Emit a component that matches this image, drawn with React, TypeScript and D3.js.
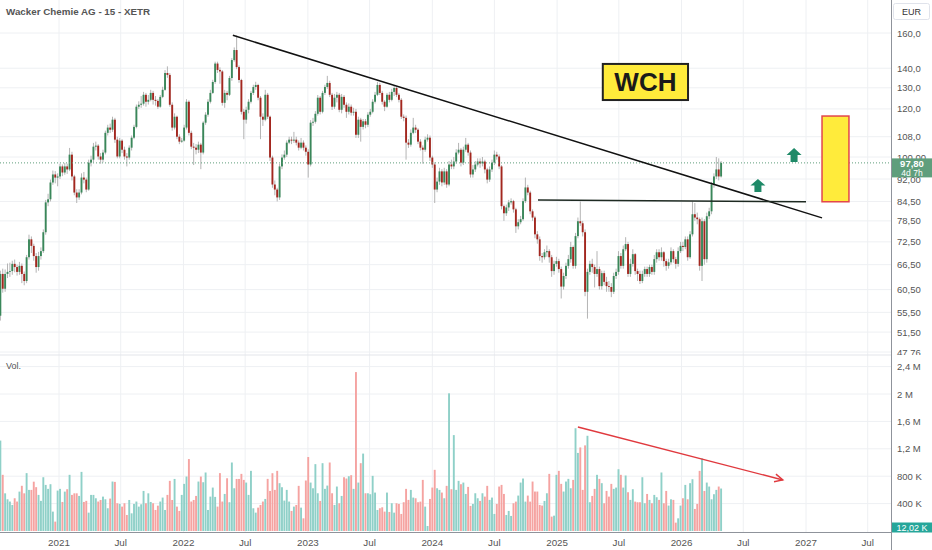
import React from "react";
import * as d3 from "d3";

// ---------- data ----------
const firstDate = "2020-07-13"; // weekly candles
const firstOpen = 54.8;

const closes = [
  64.2, 60.7, 64.2, 64.7, 64.9, 66.7, 65.9, 64.7, 66.2, 64.2,
  62.5, 68.4, 73.2, 71.4, 68.7, 65.9, 68.7, 70.0, 75.2, 84.2,
  85.2, 90.8, 93.6, 92.5, 92.9, 96.5, 94.3, 96.5, 95.4, 100.9,
  92.9, 87.4, 85.8, 87.4, 92.5, 91.8, 88.4, 97.9, 99.0, 104.0,
  104.4, 100.2, 99.0, 101.7, 109.6, 111.8, 110.9, 115.2, 106.8, 100.2,
  106.4, 102.8, 100.2, 99.8, 103.6, 107.6, 112.1, 121.0, 121.9, 122.4,
  126.6, 123.3, 124.2, 127.5, 124.2, 123.7, 121.0, 125.6, 129.0, 137.5,
  136.5, 121.9, 111.8, 116.5, 108.0, 106.0, 106.4, 111.8, 123.3, 109.6,
  104.0, 103.6, 102.8, 104.8, 101.7, 113.9, 117.4, 123.3, 127.5, 132.9,
  142.5, 139.1, 138.3, 122.8, 127.5, 126.6, 134.9, 144.4, 150.0, 140.6,
  133.9, 118.7, 115.2, 119.6, 123.3, 127.5, 130.4, 131.4, 125.2, 116.5,
  115.2, 126.6, 116.5, 99.8, 90.1, 88.4, 85.8, 96.5, 99.8, 100.9,
  105.6, 106.8, 106.4, 106.8, 105.6, 103.6, 105.6, 103.6, 102.0, 97.2,
  113.9, 114.3, 117.8, 125.2, 118.7, 127.5, 130.4, 132.4, 126.6, 121.0,
  125.2, 126.6, 119.6, 125.6, 121.9, 118.7, 121.0, 118.3, 118.7, 108.8,
  115.2, 112.1, 114.5, 113.0, 117.4, 118.7, 123.3, 126.6, 131.4, 127.5,
  123.3, 121.0, 126.6, 124.2, 128.0, 129.9, 126.6, 124.2, 116.5, 116.0,
  105.6, 104.8, 109.6, 111.8, 110.9, 106.0, 103.6, 102.8, 106.8, 107.6,
  99.8, 97.2, 88.4, 91.1, 94.7, 90.8, 94.7, 90.1, 97.2, 96.5,
  98.3, 101.7, 102.8, 97.9, 102.8, 104.8, 101.7, 93.6, 95.4, 97.2,
  98.3, 97.6, 98.3, 95.4, 91.8, 95.4, 97.9, 100.9, 100.2, 96.5,
  83.0, 80.8, 82.6, 84.2, 84.6, 82.0, 76.9, 78.1, 79.0, 84.6,
  89.1, 87.4, 81.4, 79.5, 74.6, 73.2, 68.7, 68.4, 69.7, 70.0,
  68.4, 64.9, 66.7, 67.4, 65.4, 61.2, 63.7, 66.2, 67.9, 71.1,
  66.2, 74.1, 78.4, 77.8, 75.2, 60.0, 64.7, 66.7, 65.9, 64.2,
  65.4, 61.3, 64.4, 62.3, 61.3, 61.1, 60.0, 63.7, 64.7, 68.7,
  66.2, 70.5, 71.9, 64.2, 66.7, 69.2, 64.9, 64.2, 62.5, 64.2,
  65.4, 64.2, 65.9, 64.7, 67.9, 69.7, 68.4, 69.7, 67.4, 66.2,
  67.1, 70.0, 67.9, 66.7, 70.0, 71.4, 71.1, 73.2, 68.4, 74.6,
  80.5, 79.5, 79.0, 66.2, 78.4, 67.9, 79.9, 81.4, 90.1, 92.9,
  95.4, 92.9, 97.8,
];

const highs = [
  65.0, 65.5, 65.3, 66.8, 67.0, 67.5, 67.8, 66.5, 67.2, 66.8,
  64.8, 69.0, 74.5, 74.0, 72.0, 69.5, 69.8, 71.0, 76.0, 85.0,
  87.0, 91.8, 95.0, 94.8, 94.0, 97.5, 97.2, 97.8, 97.5, 103.5,
  102.0, 93.5, 88.5, 88.5, 94.0, 94.5, 92.5, 99.0, 100.5, 105.5,
  106.0, 105.0, 101.5, 102.8, 110.5, 113.0, 113.5, 116.5, 116.0, 108.0,
  107.5, 107.0, 104.0, 101.5, 104.5, 108.5, 113.0, 122.0, 123.5, 126.0,
  128.0, 127.5, 126.5, 129.0, 128.5, 126.0, 124.5, 126.5, 130.5, 139.0,
  141.0, 137.5, 123.0, 118.0, 117.0, 109.0, 107.5, 113.0, 124.5, 124.0,
  110.5, 105.5, 105.0, 106.0, 105.5, 114.5, 118.5, 124.5, 129.0, 134.0,
  143.5, 143.5, 140.5, 139.0, 129.0, 128.5, 136.0, 145.5, 151.5, 158.5,
  141.5, 134.5, 120.0, 121.0, 124.5, 128.5, 131.5, 133.0, 132.0, 126.0,
  118.0, 129.0, 127.5, 117.0, 100.5, 91.5, 89.0, 97.5, 101.0, 102.5,
  106.5, 108.0, 108.0, 110.0, 108.0, 106.5, 107.5, 106.5, 104.5, 103.0,
  115.0, 116.0, 119.0, 126.5, 126.0, 128.5, 131.5, 136.0, 133.5, 127.5,
  127.0, 128.0, 127.5, 127.0, 126.5, 123.0, 122.5, 122.0, 120.5, 120.0,
  116.5, 116.0, 115.5, 115.5, 118.5, 120.0, 124.5, 128.0, 133.0, 132.5,
  128.5, 124.0, 127.5, 128.0, 129.5, 131.0, 130.5, 127.5, 125.0, 117.5,
  117.0, 107.0, 111.0, 116.0, 113.0, 111.5, 107.0, 104.5, 108.0, 109.0,
  108.5, 100.5, 98.0, 92.5, 96.0, 95.5, 96.0, 95.5, 98.5, 99.0,
  100.0, 103.0, 105.5, 103.5, 104.0, 107.5, 105.5, 102.5, 97.0, 98.5,
  99.5, 99.5, 100.0, 99.0, 96.0, 96.5, 99.0, 102.5, 102.0, 101.0,
  97.0, 83.5, 83.5, 85.0, 85.5, 85.0, 82.5, 79.0, 80.0, 85.5,
  92.5, 90.0, 88.0, 82.0, 80.0, 75.5, 74.0, 69.5, 70.5, 71.5,
  70.5, 69.0, 67.5, 68.5, 68.0, 66.0, 64.5, 67.0, 69.0, 72.5,
  71.5, 75.0, 79.5, 84.5, 78.5, 76.0, 65.5, 67.5, 68.0, 66.5,
  70.0, 66.0, 65.0, 65.0, 63.5, 62.5, 62.0, 64.5, 65.5, 70.0,
  69.5, 71.5, 73.8, 72.5, 68.0, 70.5, 69.5, 65.5, 65.0, 65.0,
  66.0, 66.0, 66.5, 66.5, 69.0, 70.5, 70.5, 71.0, 70.0, 68.0,
  68.0, 71.0, 70.5, 68.5, 71.0, 72.5, 72.5, 74.0, 74.0, 75.5,
  84.5, 84.0, 81.0, 79.5, 79.5, 79.0, 81.0, 82.5, 91.0, 94.0,
  100.0, 99.5, 98.5,
];

const lows = [
  53.8, 59.8, 60.0, 63.2, 63.5, 64.0, 64.6, 63.8, 64.0, 62.0,
  61.5, 62.0, 67.8, 69.5, 67.5, 64.5, 65.0, 67.8, 69.5, 74.5,
  83.0, 84.5, 90.0, 90.5, 89.5, 92.0, 93.0, 93.5, 93.8, 94.8,
  91.5, 86.5, 84.0, 85.0, 86.8, 90.5, 87.5, 88.0, 96.5, 98.0,
  102.5, 99.0, 97.5, 98.0, 101.0, 108.5, 109.5, 110.0, 105.5, 99.5,
  99.5, 101.5, 99.0, 96.5, 99.0, 102.5, 107.0, 111.5, 120.0, 120.5,
  121.5, 121.0, 122.0, 123.5, 122.0, 121.5, 120.0, 120.5, 125.0, 128.5,
  135.0, 121.0, 110.5, 111.0, 107.0, 105.0, 105.5, 106.0, 111.0, 108.5,
  103.0, 97.0, 101.0, 101.5, 95.5, 101.0, 113.0, 116.5, 122.5, 127.0,
  132.0, 137.5, 132.0, 121.5, 120.5, 124.0, 126.0, 133.5, 143.5, 139.5,
  132.5, 117.5, 107.0, 113.5, 118.0, 122.5, 126.5, 129.0, 124.0, 107.0,
  112.5, 114.5, 115.5, 98.5, 89.0, 86.5, 84.5, 85.0, 95.5, 99.0,
  100.0, 105.0, 105.0, 105.5, 104.5, 102.5, 103.0, 102.5, 100.5, 92.5,
  96.5, 112.5, 113.5, 117.0, 117.5, 118.0, 126.5, 129.5, 125.5, 119.5,
  120.0, 123.0, 118.5, 118.0, 120.5, 116.0, 117.5, 117.0, 117.0, 107.5,
  107.5, 106.0, 111.0, 111.5, 112.0, 116.5, 118.0, 122.5, 126.0, 126.5,
  122.0, 119.0, 120.5, 123.0, 123.5, 126.0, 125.5, 123.0, 115.5, 114.5,
  99.0, 103.5, 104.0, 109.0, 109.5, 105.0, 102.5, 97.5, 102.0, 106.0,
  98.5, 96.0, 84.0, 87.5, 90.0, 89.5, 90.0, 89.0, 89.5, 95.5,
  95.5, 97.5, 101.0, 96.5, 97.0, 102.0, 100.5, 92.5, 92.5, 94.5,
  96.5, 96.0, 96.5, 94.0, 90.5, 91.0, 94.5, 97.0, 99.0, 95.5,
  82.0, 78.5, 80.0, 81.5, 83.5, 81.0, 75.0, 76.0, 77.5, 78.5,
  84.0, 86.5, 80.5, 78.5, 73.5, 72.0, 67.5, 67.0, 67.8, 68.5,
  67.0, 63.5, 64.0, 66.0, 64.5, 58.5, 60.5, 63.0, 65.5, 67.0,
  65.5, 65.5, 73.5, 77.0, 74.0, 59.0, 54.2, 64.0, 64.5, 61.0,
  63.5, 60.5, 60.5, 61.5, 60.0, 60.0, 58.8, 59.5, 63.0, 64.0,
  65.5, 65.5, 70.0, 63.5, 63.5, 66.0, 64.0, 62.5, 61.8, 62.0,
  63.5, 63.5, 63.5, 64.0, 64.0, 67.0, 67.5, 67.5, 66.0, 65.0,
  65.5, 66.5, 67.0, 65.5, 66.0, 69.5, 70.0, 70.5, 67.5, 68.0,
  74.0, 78.5, 77.5, 65.0, 62.5, 66.5, 67.0, 79.0, 80.5, 89.0,
  92.0, 91.5, 92.5,
];

// weekly volume, thousands of shares
const volumes = [
  1320, 820, 550, 463, 430, 380, 478, 430, 575, 660,
  550, 845, 600, 600, 720, 640, 527, 440, 785, 673,
  615, 683, 283, 137, 590, 615, 424, 575, 610, 820,
  527, 550, 550, 512, 863, 424, 440, 268, 527, 527,
  478, 430, 453, 502, 463, 332, 473, 722, 717, 405,
  395, 356, 405, 234, 453, 258, 395, 430, 356, 390,
  585, 405, 550, 424, 405, 307, 370, 430, 488, 307,
  527, 732, 453, 760, 356, 293, 527, 688, 795, 1050,
  430, 453, 512, 722, 795, 712, 854, 307, 502, 634,
  498, 356, 845, 430, 541, 770, 420, 1000, 624, 760,
  760, 834, 746, 707, 527, 878, 332, 268, 341, 380,
  430, 468, 761, 585, 844, 600, 878, 698, 639, 444,
  600, 430, 293, 356, 380, 659, 341, 185, 737, 1080,
  707, 624, 976, 551, 439, 990, 615, 663, 1000, 551,
  380, 649, 405, 512, 785, 766, 800, 815, 615, 2320,
  707, 990, 1130, 551, 551, 537, 805, 561, 307, 332,
  346, 283, 561, 278, 405, 268, 405, 395, 249, 420,
  615, 454, 600, 488, 478, 420, 429, 746, 356, 73,
  468, 634, 893, 624, 600, 561, 478, 659, 2010, 610,
  1400, 600, 732, 683, 707, 541, 644, 366, 395, 551,
  478, 439, 551, 502, 659, 454, 488, 249, 395, 649,
  673, 541, 234, 293, 220, 405, 429, 517, 707, 766,
  429, 517, 429, 722, 576, 576, 380, 371, 439, 551,
  834, 210, 224, 820, 878, 688, 576, 722, 761, 624,
  746, 1500, 1140, 1220, 600, 1250, 1390, 420, 512, 615,
  820, 761, 698, 405, 585, 502, 688, 615, 634, 902,
  820, 634, 810, 566, 454, 610, 429, 420, 420, 785,
  405, 541, 454, 405, 527, 493, 454, 854, 405, 585,
  371, 463, 454, 122, 185, 371, 478, 673, 463, 698,
  756, 322, 395, 878, 1060, 585, 707, 649, 463, 537,
  600, 649, 620,
];

const priceTicks = [160, 140, 130, 120, 108, 100, 92, 84.5, 78.5, 72.5, 66.5, 60.5, 55.5, 51.5, 47.76];
const priceTickLabels = ["160,0", "140,0", "130,0", "120,0", "108,0", "100,00", "92,00", "84,50", "78,50", "72,50", "66,50", "60,50", "55,50", "51,50", "47,76"];

const volTicks = [400, 800, 1200, 1600, 2000, 2400];
const volTickLabels = ["400 K", "800 K", "1,2 M", "1,6 M", "2 M", "2,4 M"];

const timeTicks = [
  "2021-01-01", "2021-07-01", "2022-01-01", "2022-07-01", "2023-01-01", "2023-07-01",
  "2024-01-01", "2024-07-01", "2025-01-01", "2025-07-01", "2026-01-01", "2026-07-01",
  "2027-01-01", "2027-07-01",
];
const timeTickLabels = ["2021", "Jul", "2022", "Jul", "2023", "Jul", "2024", "Jul", "2025", "Jul", "2026", "Jul", "2027", "Jul"];

const title = "Wacker Chemie AG - 15 - XETR";
const currency = "EUR";
const lastPrice = 97.8;
const lastPriceLabel = "97,80";
const countdownLabel = "4d 7h";
const lastVolumeLabel = "12,02 K";
const lastVolume = 12.02;

// drawings (date, price)
const trendLine = [["2022-05-26", 158.6], ["2027-02-17", 79.4]] as const;
const supportLine = [["2024-11-06", 85.0], ["2027-01-01", 84.4]] as const;
const targetBox = { from: "2027-02-17", to: "2027-05-07", low: 84.4, high: 116.8 };
const upArrows = [
  { date: "2026-08-13", base: 87.6, tip: 92.0 },
  { date: "2026-11-27", base: 98.1, tip: 103.5 },
];
const labelBox = { from: "2025-05-15", to: "2026-01-20", low: 124.1, high: 142.3, text: "WCH" };
const volumeTrend = [["2025-03-03", 1518], ["2026-10-25", 745]] as const;

// ---------- component ----------
const FONT = "'Liberation Sans', Arial, sans-serif";
const d = (s: string) => new Date(s + "T00:00:00Z");

export default function App() {
  const W = 932;
  const H = 550;
  const plotRight = 891;
  const paneSplit = 355;
  const axisY = 532;

  const x = d3.scaleUtc().domain([d("2021-01-01"), d("2027-01-01")]).range([59, 806]);
  const y = d3.scaleLog().domain([47.76, 160]).range([352, 33]);
  const yv = d3.scaleLinear().domain([0, 2400]).range([531, 366.6]);

  const start = d(firstDate);
  const candles = closes.map((c, i) => {
    const o = i === 0 ? firstOpen : closes[i - 1];
    return {
      date: d3.utcDay.offset(start, 7 * i),
      o,
      c,
      h: Math.max(highs[i], o, c),
      l: Math.min(lows[i], o, c),
      v: volumes[i],
      up: c >= o,
    };
  });

  const green = "#3a875a";
  const red = "#a3271f";
  const wick = "#acacac";
  const grid = "#eef0f3";

  const arrowPath = (cx: number, yb: number, yt: number) => {
    const hh = (yb - yt) * 0.5;
    return `M${cx},${yt} L${cx + 7.5},${yt + hh} L${cx + 3.5},${yt + hh} L${cx + 3.5},${yb} L${cx - 3.5},${yb} L${cx - 3.5},${yt + hh} L${cx - 7.5},${yt + hh} Z`;
  };

  const vt0 = [x(d(volumeTrend[0][0])), yv(volumeTrend[0][1])];
  const vt1 = [x(d(volumeTrend[1][0])), yv(volumeTrend[1][1])];
  const ang = Math.atan2(vt1[1] - vt0[1], vt1[0] - vt0[0]);
  const ah = 9;
  const head1 = [vt1[0] - ah * Math.cos(ang - 0.45), vt1[1] - ah * Math.sin(ang - 0.45)];
  const head2 = [vt1[0] - ah * Math.cos(ang + 0.45), vt1[1] - ah * Math.sin(ang + 0.45)];

  const lpY = y(lastPrice);
  const lvY = Math.min(yv(lastVolume), 527.5);

  return (
    <div style={{ position: "absolute", left: 0, top: 0, width: W, height: H, background: "#fff" }}>
      <svg width={W} height={H} style={{ display: "block", fontFamily: FONT }}>
        <defs>
          <clipPath id="pricePane">
            <rect x={0} y={0} width={plotRight} height={paneSplit} />
          </clipPath>
          <clipPath id="volPane">
            <rect x={0} y={paneSplit} width={plotRight} height={axisY - paneSplit} />
          </clipPath>
          <clipPath id="priceAxis">
            <rect x={plotRight} y={0} width={W - plotRight} height={paneSplit} />
          </clipPath>
        </defs>
        <rect x={0} y={0} width={W} height={H} fill="#ffffff" />

        {/* vertical grid */}
        {timeTicks.map((t) => (
          <line key={t} x1={x(d(t))} x2={x(d(t))} y1={0} y2={axisY} stroke={grid} strokeWidth={1} />
        ))}
        {/* price grid */}
        <g clipPath="url(#pricePane)">
          {priceTicks.map((p) => (
            <line key={p} x1={0} x2={plotRight} y1={y(p)} y2={y(p)} stroke={grid} strokeWidth={1} />
          ))}
        </g>
        {/* volume grid */}
        {volTicks.map((v) => (
          <line key={v} x1={0} x2={plotRight} y1={yv(v)} y2={yv(v)} stroke={grid} strokeWidth={1} />
        ))}
        <line x1={0} x2={plotRight} y1={paneSplit} y2={paneSplit} stroke="#e3e5ea" strokeWidth={1} />

        {/* volume bars */}
        <g clipPath="url(#volPane)">
          {candles.map((k, i) => (
            <rect
              key={i}
              x={x(k.date) - 0.95}
              width={1.9}
              y={yv(k.v)}
              height={yv(0) - yv(k.v)}
              fill={k.up ? "#8fd0c8" : "#f5a3a1"}
            />
          ))}
          <line x1={vt0[0]} y1={vt0[1]} x2={vt1[0]} y2={vt1[1]} stroke="#e0393e" strokeWidth={1.4} />
          <polyline
            points={`${head1[0]},${head1[1]} ${vt1[0]},${vt1[1]} ${head2[0]},${head2[1]}`}
            fill="none"
            stroke="#e0393e"
            strokeWidth={1.4}
          />
        </g>
        <text x={6} y={369} fontSize={9} fill="#555">Vol.</text>

        {/* candles */}
        <g clipPath="url(#pricePane)">
          {candles.map((k, i) => {
            const cx = x(k.date);
            const yo = y(k.o);
            const yc = y(k.c);
            return (
              <g key={i}>
                <line x1={cx} x2={cx} y1={y(k.h)} y2={y(k.l)} stroke={wick} strokeWidth={0.9} />
                <rect
                  x={cx - 0.95}
                  width={1.9}
                  y={Math.min(yo, yc)}
                  height={Math.max(0.8, Math.abs(yo - yc))}
                  fill={k.up ? green : red}
                />
              </g>
            );
          })}

          {/* last price dotted line */}
          <line x1={0} x2={plotRight} y1={lpY} y2={lpY} stroke="#5f9e7c" strokeWidth={1} strokeDasharray="1 2" />

          {/* drawings */}
          <line
            x1={x(d(trendLine[0][0]))}
            y1={y(trendLine[0][1])}
            x2={x(d(trendLine[1][0]))}
            y2={y(trendLine[1][1])}
            stroke="#111"
            strokeWidth={1.5}
          />
          <line
            x1={x(d(supportLine[0][0]))}
            y1={y(supportLine[0][1])}
            x2={x(d(supportLine[1][0]))}
            y2={y(supportLine[1][1])}
            stroke="#1e2a22"
            strokeWidth={1.5}
          />
          <rect
            x={x(d(targetBox.from))}
            y={y(targetBox.high)}
            width={x(d(targetBox.to)) - x(d(targetBox.from))}
            height={y(targetBox.low) - y(targetBox.high)}
            fill="#ffeb3b"
            stroke="#e2464c"
            strokeWidth={1.5}
          />
          {upArrows.map((a) => (
            <path key={a.date} d={arrowPath(x(d(a.date)), y(a.base), y(a.tip))} fill="#1f8a68" />
          ))}
          <rect
            x={x(d(labelBox.from))}
            y={y(labelBox.high)}
            width={x(d(labelBox.to)) - x(d(labelBox.from))}
            height={y(labelBox.low) - y(labelBox.high)}
            fill="#ffeb3b"
            stroke="#222"
            strokeWidth={2}
          />
          <text
            x={(x(d(labelBox.from)) + x(d(labelBox.to))) / 2}
            y={(y(labelBox.high) + y(labelBox.low)) / 2 + 9}
            textAnchor="middle"
            fontSize={26}
            fontWeight="bold"
            fill="#1a1a1a"
          >
            {labelBox.text}
          </text>
        </g>

        <text x={6} y={15} fontSize={9.8} fontWeight={600} fill="#555">{title}</text>

        {/* right axis */}
        <rect x={plotRight} y={0} width={W - plotRight} height={H} fill="#fff" />
        <line x1={plotRight + 0.5} x2={plotRight + 0.5} y1={0} y2={H} stroke="#8f939b" strokeWidth={1} />
        <line x1={0} x2={plotRight} y1={axisY + 0.5} y2={axisY + 0.5} stroke="#8f939b" strokeWidth={1} />
        <rect x={893.5} y={3.5} width={36} height={16} rx={2} fill="#fff" stroke="#e0e3eb" />
        <text x={911.5} y={14.5} fontSize={9} textAnchor="middle" fill="#333">{currency}</text>
        <g clipPath="url(#priceAxis)">
          {priceTicks.map((p, i) => (
            <text key={p} x={897} y={y(p) + 3.5} fontSize={9.5} fill="#555">{priceTickLabels[i]}</text>
          ))}
        </g>
        {volTicks.map((v, i) => (
          <text key={v} x={897} y={yv(v) + 3.5} fontSize={9.5} fill="#555">{volTickLabels[i]}</text>
        ))}
        {/* last price label (covers neighbouring tick labels, as in the original) */}
        <rect x={892} y={lpY - 4.5} width={40} height={19} fill="#5f9e7c" />
        <text x={912} y={lpY + 4} fontSize={9.5} fontWeight={600} textAnchor="middle" fill="#fff">{lastPriceLabel}</text>
        <text x={912} y={lpY + 12.8} fontSize={8.5} textAnchor="middle" fill="#fff">{countdownLabel}</text>
        {/* last volume label */}
        <rect x={892} y={lvY - 5} width={40} height={10} fill="#26a69a" />
        <text x={912} y={lvY + 3.3} fontSize={9} textAnchor="middle" fill="#fff">{lastVolumeLabel}</text>

        {/* time axis */}
        {timeTicks.map((t, i) => (
          <text key={t} x={x(d(t))} y={546} fontSize={9.8} textAnchor="middle" fill="#555">{timeTickLabels[i]}</text>
        ))}
      </svg>
    </div>
  );
}
